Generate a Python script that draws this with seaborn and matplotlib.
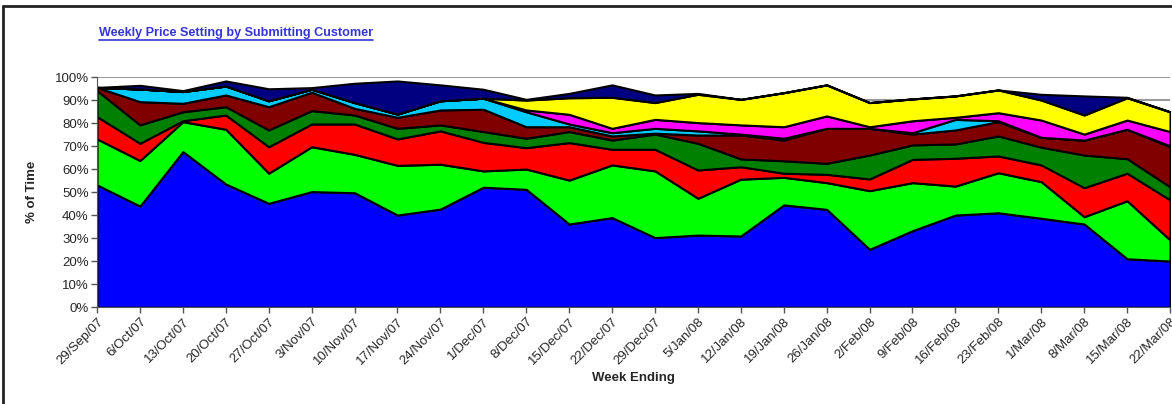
import matplotlib
matplotlib.use("Agg")
import matplotlib.pyplot as plt
from matplotlib.lines import Line2D
import seaborn as sns
import pandas as pd

# week ending dates (x categories)
weeks = ["29/Sep/07", "6/Oct/07", "13/Oct/07", "20/Oct/07", "27/Oct/07", "3/Nov/07",
         "10/Nov/07", "17/Nov/07", "24/Nov/07", "1/Dec/07", "8/Dec/07", "15/Dec/07",
         "22/Dec/07", "29/Dec/07", "5/Jan/08", "12/Jan/08", "19/Jan/08", "26/Jan/08",
         "2/Feb/08", "9/Feb/08", "16/Feb/08", "23/Feb/08", "1/Mar/08", "8/Mar/08",
         "15/Mar/08", "22/Mar/08"]

# share of time (%) per customer, bottom layer first
cust_blue = [53.2, 44.0, 67.7, 53.6, 45.2, 50.3, 49.8, 40.1, 42.7, 52.2, 51.3, 36.2, 39.0,
             30.3, 31.4, 31.0, 44.5, 42.6, 25.2, 33.3, 40.1, 41.1, 38.7, 36.2, 21.1, 20.1]
cust_lime = [20.0, 19.8, 13.0, 23.8, 13.1, 19.5, 16.7, 21.6, 19.5, 7.1, 8.8, 19.1, 22.9,
             29.0, 16.0, 24.7, 12.0, 11.6, 25.5, 20.9, 12.6, 17.4, 15.9, 3.2, 25.2, 9.2]
cust_red = [9.7, 7.5, 0.4, 6.2, 11.5, 9.9, 13.2, 11.5, 14.5, 12.4, 9.3, 16.3, 6.8,
            9.4, 12.3, 5.4, 1.8, 3.6, 5.1, 10.1, 12.1, 7.3, 7.3, 12.6, 12.0, 17.4]
cust_dkgreen = [11.3, 8.0, 3.9, 3.6, 7.3, 5.8, 3.9, 4.6, 2.6, 4.7, 4.1, 4.8, 4.0,
                6.6, 11.6, 3.4, 5.4, 4.8, 10.4, 6.3, 6.2, 8.7, 7.7, 14.2, 6.3, 5.7]
cust_maroon = [1.4, 10.1, 3.7, 5.1, 10.1, 8.0, 2.9, 4.8, 6.5, 9.7, 5.0, 2.1, 1.8,
               0.4, 3.6, 10.4, 9.0, 15.2, 11.6, 4.7, 6.1, 6.2, 4.3, 6.5, 12.8, 17.4]
cust_sky = [0.0, 5.5, 5.1, 3.9, 2.6, 1.3, 2.5, 1.4, 4.0, 4.8, 6.5, 1.2, 1.4,
            2.1, 1.8, 0.4, 0.8, 0.0, 0.0, 0.6, 4.6, 0.4, 0.0, 0.0, 0.0, 0.4]
cust_magenta = [0.0, 0.0, 0.0, 0.0, 0.0, 0.0, 0.0, 0.0, 0.0, 0.0, 0.8, 4.2, 1.9,
                3.9, 3.6, 4.0, 5.0, 5.4, 0.7, 5.2, 0.9, 3.5, 7.5, 2.6, 4.0, 6.2]
cust_yellow = [0.0, 0.0, 0.0, 0.0, 0.0, 0.0, 0.0, 0.0, 0.0, 0.0, 4.3, 7.2, 13.5,
               7.3, 12.3, 11.1, 14.8, 13.5, 10.5, 9.5, 9.3, 9.9, 8.7, 8.3, 9.7, 8.6]
cust_navy = [0.0, 1.6, 0.4, 2.2, 5.2, 0.7, 8.4, 14.4, 6.9, 3.9, 0.3, 1.9, 5.4,
             3.3, 0.4, 0.0, 0.0, 0.0, 0.0, 0.0, 0.0, 0.0, 2.5, 8.3, 0.2, 0.0]

df = pd.DataFrame({
    "blue": cust_blue, "lime": cust_lime, "red": cust_red, "dkgreen": cust_dkgreen,
    "maroon": cust_maroon, "sky": cust_sky, "magenta": cust_magenta,
    "yellow": cust_yellow, "navy": cust_navy,
}, index=weeks)

colours = ["#0000FF", "#00FF00", "#FF0000", "#008000", "#800000",
           "#00CCFF", "#FF00FF", "#FFFF00", "#000080"]

sns.set_style("white")
plt.rcParams["font.family"] = ["Liberation Sans", "DejaVu Sans"]

fig = plt.figure(figsize=(11.72, 4.04), dpi=100)
ax = fig.add_axes([0.0828, 0.2394, 0.9155, 0.5693])

x = list(range(len(weeks)))
ax.stackplot(x, [df[c] / 100 for c in df.columns], colors=colours,
             edgecolor="black", linewidth=1.5, zorder=2)

ax.set_xlim(0, len(weeks) - 1)
ax.set_ylim(0, 1)
ax.set_yticks([i / 10 for i in range(11)])
ax.set_yticklabels([f"{i * 10}%" for i in range(11)], fontsize=9.5)
ax.set_xticks(x)
ax.set_xticklabels(weeks, rotation=45, ha="right", rotation_mode="anchor", fontsize=9.5)

ax.yaxis.grid(True, color="#999999", linewidth=1.5, zorder=0)
ax.set_axisbelow(True)
for side in ["top", "right"]:
    ax.spines[side].set_visible(False)
ax.spines["left"].set_color("#555555")
ax.spines["bottom"].set_color("#555555")
ax.tick_params(axis="both", direction="out", length=4, width=1, color="#555555",
               left=True, bottom=True, pad=2)

ax.set_ylabel("% of Time", fontsize=9.5, fontweight="bold", labelpad=12)
ax.set_xlabel("Week Ending", fontsize=9.5, fontweight="bold", labelpad=4)

# title, underlined like a hyperlink
title = fig.text(99 / 1172, 1 - 33 / 404, "Weekly Price Setting by Submitting Customer",
                 color="#3535D5", fontsize=9.1, fontweight="bold", ha="left", va="center")
fig.canvas.draw()
bb = title.get_window_extent()
uy = (bb.y0 - 0.5) / fig.bbox.height
fig.add_artist(Line2D([bb.x0 / fig.bbox.width, bb.x1 / fig.bbox.width], [uy, uy],
                      color="#3535D5", linewidth=1.2))

# chart frame (top and left edges visible)
fig.add_artist(Line2D([2.5 / 1172, 1], [1 - 6 / 404, 1 - 6 / 404], color="#222222", linewidth=2))
fig.add_artist(Line2D([2.5 / 1172, 2.5 / 1172], [0, 1 - 6 / 404], color="#222222", linewidth=2))

fig.savefig("out.png", dpi=100)
